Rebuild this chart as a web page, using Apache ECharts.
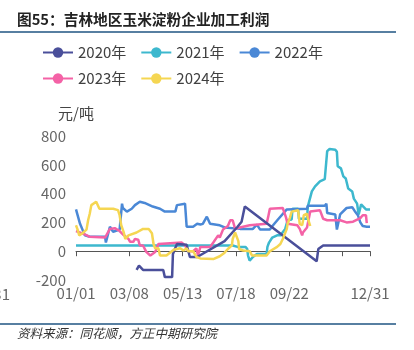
<!DOCTYPE html>
<html>
<head>
<meta charset="utf-8">
<script src="https://cdn.jsdelivr.net/npm/echarts@6/dist/echarts.min.js"></script>
<style>
  html, body { margin: 0; padding: 0; background: #fff; }
  #chart { width: 414px; height: 350px; }
</style>
</head>
<body>
<div id="chart"></div>
<script>
// 日期按一年中的第几天 (0 = 01/01)，值为 元/吨
var seriesNames = ['2020年', '2021年', '2022年', '2023年', '2024年'];
var colors = ['#4a4f9a', '#3db8ce', '#4a88d6', '#f462a6', '#f5d652'];
var yTicks = [-200, 0, 200, 400, 600, 800];

var s2020 = [[75, -130], [78, -100], [83, -130], [108, -130], [110, -180], [119, -180], [120, -20],
  [125, 50], [137, 45], [141, -40], [150, -40], [184, 70], [200, 170], [205, 205], [209, 310],
  [298, -70], [300, 15], [306, 40], [364, 40]];

var s2021 = [[0, 40], [194, 40], [200, 30], [210, 30], [212, 15], [213, -30], [215, -65], [219, -40],
  [224, -20], [236, -20], [237, 30], [239, 60], [243, 95], [249, 110], [254, 110], [255, 125],
  [259, 155], [262, 215], [267, 220], [268, 295], [275, 295], [276, 225], [286, 225], [287, 310],
  [292, 415], [296, 450], [302, 485], [308, 500], [311, 695], [314, 710], [321, 705], [323, 690],
  [324, 590], [328, 575], [331, 520], [334, 505], [337, 435], [342, 415], [344, 365], [348, 330],
  [350, 255], [353, 325], [355, 320], [359, 290], [364, 290]];

var s2022 = [[0, 290], [5, 190], [11, 110], [17, 100], [36, 100], [37, 60], [42, 170], [46, 135],
  [54, 150], [57, 330], [58, 300], [63, 275], [69, 295], [73, 320], [79, 343], [85, 335], [95, 310],
  [104, 295], [110, 275], [123, 275], [125, 320], [135, 330], [137, 170], [145, 170], [150, 190],
  [154, 185], [157, 190], [162, 240], [166, 190], [178, 180], [184, 165], [203, 155], [219, 155],
  [224, 185], [228, 150], [240, 150], [244, 180], [250, 220], [261, 290], [286, 295], [287, 315],
  [308, 315], [310, 330], [311, 265], [321, 255], [323, 150], [327, 255], [329, 255], [335, 300],
  [342, 305], [345, 280], [349, 250], [352, 200], [355, 175], [360, 170], [361, 180], [364, 170]];

var s2023 = [[0, 140], [2, 135], [13, 112], [17, 100], [36, 95], [42, 155], [48, 160], [54, 140],
  [59, 112], [65, 85], [67, 65], [71, 65], [73, 85], [77, 80], [79, 40], [83, 40], [87, -5], [92, -30],
  [98, -5], [102, 50], [131, 60], [135, 40], [139, 0], [145, 0], [149, 20], [151, -30], [154, 30],
  [166, 30], [170, 60], [176, 110], [178, 95], [182, 150], [188, 175], [191, 215], [194, 215],
  [197, 155], [203, 165], [215, 180], [236, 190], [238, 240], [240, 295], [256, 300], [260, 235],
  [262, 190], [274, 180], [277, 155], [280, 110], [281, 130], [283, 120], [286, 165], [290, 275],
  [302, 285], [306, 225], [311, 215], [327, 215], [335, 200], [343, 205], [352, 230], [355, 250],
  [359, 250], [360, 195]];

var s2024 = [[0, 180], [2, 150], [4, 110], [8, 125], [13, 150], [15, 215], [17, 260], [19, 320],
  [25, 343], [27, 335], [29, 295], [46, 295], [52, 285], [54, 250], [56, 180], [59, 133], [61, 85],
  [65, 110], [75, 130], [83, 155], [90, 155], [94, 125], [96, 50], [98, 20], [102, 20], [104, -30],
  [112, -30], [121, 10], [129, 20], [133, 5], [137, 20], [139, 0], [145, 0], [149, -40], [154, -50],
  [170, -55], [178, -35], [184, -10], [188, 15], [193, 40], [194, 85], [197, 130], [199, 125],
  [201, 70], [202, 15], [207, 5], [215, 0], [218, -30], [236, -30], [240, 0], [249, 30], [253, 50],
  [256, 85], [261, 155], [262, 190], [265, 235], [267, 275], [275, 285], [276, 240], [277, 190],
  [280, 180], [281, 210], [282, 250], [286, 260], [287, 230], [290, 175]];

var allData = [s2020, s2021, s2022, s2023, s2024];

function dayLabel(d) {
  var dt = new Date(2023, 0, 1 + d);
  var m = dt.getMonth() + 1, dd = dt.getDate();
  return (m < 10 ? '0' + m : m) + '/' + (dd < 10 ? '0' + dd : dd);
}

var chart = echarts.init(document.getElementById('chart'));
var font = '"Noto Sans CJK SC", "Noto Sans", sans-serif';

chart.setOption({
  animation: false,
  textStyle: { fontFamily: font },
  title: {
    text: '图55：吉林地区玉米淀粉企业加工利润',
    left: 17, top: 12, padding: 0,
    textStyle: { fontSize: 14.7, fontWeight: 'bold', color: '#222', fontFamily: font }
  },
  legend: [{
    data: seriesNames.slice(0, 3),
    left: 42, top: 45, padding: 0,
    itemWidth: 30, itemHeight: 13, itemGap: 14,
    textStyle: { fontSize: 15, color: '#404040' }
  }, {
    data: seriesNames.slice(3),
    left: 42, top: 71, padding: 0,
    itemWidth: 30, itemHeight: 13, itemGap: 14,
    textStyle: { fontSize: 15, color: '#404040' }
  }],
  grid: { left: 76, right: 44, top: 136, bottom: 70 },
  xAxis: {
    type: 'value',
    min: 0, max: 364, interval: 66,
    splitLine: { show: false },
    axisLine: { lineStyle: { color: '#555', width: 1 } },
    axisTick: { show: true, length: 5, lineStyle: { color: '#555' } },
    axisLabel: {
      fontSize: 15, color: '#666', margin: 6,
      formatter: function (v) { return v === 330 ? '' : dayLabel(v); }
    }
  },
  yAxis: {
    type: 'value',
    min: yTicks[0], max: yTicks[yTicks.length - 1], interval: 200,
    name: '元/吨',
    nameGap: 15,
    nameTextStyle: { fontSize: 15, color: '#444' },
    splitLine: { show: false },
    axisLine: { show: false },
    axisTick: { show: false },
    axisLabel: { fontSize: 15, color: '#666', margin: 10 }
  },
  graphic: [
    { type: 'line', shape: { x1: 0, y1: 32, x2: 396, y2: 32 }, style: { stroke: '#1f5582', lineWidth: 1.5 } },
    { type: 'line', shape: { x1: 0, y1: 324, x2: 396, y2: 324 }, style: { stroke: '#1f5582', lineWidth: 1.5 } },
    { type: 'text', left: 17, top: 327,
      style: { text: '资料来源：同花顺，方正中期研究院', fill: '#333', font: 'italic 12.5px ' + font } },
    { type: 'text', x: 10, y: 287,
      style: { text: '12/31', textAlign: 'right', fill: '#666', font: '15px ' + font } }
  ],
  series: allData.map(function (d, i) {
    return {
      name: seriesNames[i],
      type: 'line',
      data: d,
      symbol: 'circle',
      symbolSize: 12,
      showSymbol: false,
      z: i === 0 ? 6 : 2 + i,
      itemStyle: { color: colors[i] },
      lineStyle: { width: 2.5, color: colors[i] }
    };
  })
});
</script>
</body>
</html>
